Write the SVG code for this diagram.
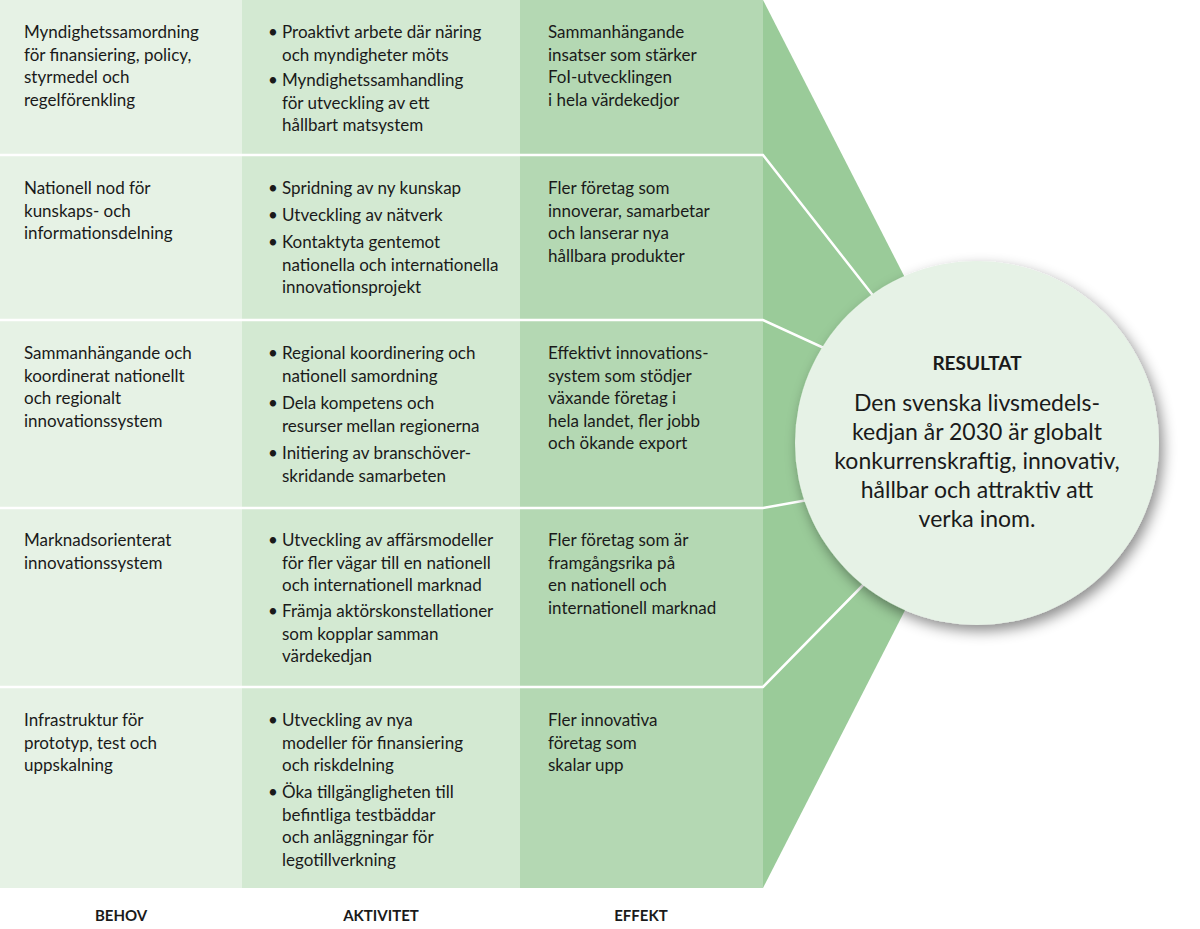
<svg xmlns="http://www.w3.org/2000/svg" width="1200" height="929" viewBox="0 0 1200 929">
<style>
text{font-family:Lato,"Open Sans","Liberation Sans",sans-serif;fill:#1a1a1a}
.t{font-size:17px}
.h{font-size:15px;font-weight:bold;text-anchor:middle}
.c{font-size:23px;text-anchor:middle}
.sep{stroke:#fff;stroke-width:2.5;fill:none}
</style>
<defs>
<filter id="sh" x="-20%" y="-20%" width="150%" height="150%"><feDropShadow dx="4" dy="6" stdDeviation="7" flood-color="#000" flood-opacity="0.45"/></filter>
</defs>
<rect width="1200" height="929" fill="#fff"/>
<g id="bg">
<rect x="0" y="0" width="242" height="888" fill="#e6f2e5"/>
<rect x="242" y="0" width="278" height="888" fill="#d3e9d2"/>
<rect x="520" y="0" width="243" height="888" fill="#b4d8b3"/>
<polygon points="763,0 990,444 763,888" fill="#9acb99"/>
</g>
<g id="connectors">
<polyline class="sep" points="0,155 763,155 900,330"/>
<polyline class="sep" points="0,320 763,320 850,360"/>
<polyline class="sep" points="0,508 763,508 830,496"/>
<polyline class="sep" points="0,687 763,687 870,578"/>
</g>
<g id="row1">
<text class="t" x="24" y="38">Myndighetssamordning<tspan x="24" dy="22.5">för finansiering, policy,</tspan><tspan x="24" dy="22.5">styrmedel och</tspan><tspan x="24" dy="22.5">regelförenkling</tspan></text>
<text class="t" x="268" y="38">•<tspan x="282">Proaktivt arbete där näring</tspan><tspan x="282" dy="22.5">och myndigheter möts</tspan></text>
<text class="t" x="268" y="86">•<tspan x="282">Myndighetssamhandling</tspan><tspan x="282" dy="22.5">för utveckling av ett</tspan><tspan x="282" dy="22.5">hållbart matsystem</tspan></text>
<text class="t" x="548" y="38">Sammanhängande<tspan x="548" dy="22.5">insatser som stärker</tspan><tspan x="548" dy="22.5">FoI-utvecklingen</tspan><tspan x="548" dy="22.5">i hela värdekedjor</tspan></text>
</g>
<g id="row2">
<text class="t" x="24" y="194">Nationell nod för<tspan x="24" dy="22.5">kunskaps- och</tspan><tspan x="24" dy="22.5">informationsdelning</tspan></text>
<text class="t" x="268" y="194">•<tspan x="282">Spridning av ny kunskap</tspan></text>
<text class="t" x="268" y="221">•<tspan x="282">Utveckling av nätverk</tspan></text>
<text class="t" x="268" y="248">•<tspan x="282">Kontaktyta gentemot</tspan><tspan x="282" dy="22.5">nationella och internationella</tspan><tspan x="282" dy="22.5">innovationsprojekt</tspan></text>
<text class="t" x="548" y="194">Fler företag som<tspan x="548" dy="22.5">innoverar, samarbetar</tspan><tspan x="548" dy="22.5">och lanserar nya</tspan><tspan x="548" dy="22.5">hållbara produkter</tspan></text>
</g>
<g id="row3">
<text class="t" x="24" y="359">Sammanhängande och<tspan x="24" dy="22.5">koordinerat nationellt</tspan><tspan x="24" dy="22.5">och regionalt</tspan><tspan x="24" dy="22.5">innovationssystem</tspan></text>
<text class="t" x="268" y="359">•<tspan x="282">Regional koordinering och</tspan><tspan x="282" dy="22.5">nationell samordning</tspan></text>
<text class="t" x="268" y="409">•<tspan x="282">Dela kompetens och</tspan><tspan x="282" dy="22.5">resurser mellan regionerna</tspan></text>
<text class="t" x="268" y="459">•<tspan x="282">Initiering av branschöver-</tspan><tspan x="282" dy="22.5">skridande samarbeten</tspan></text>
<text class="t" x="548" y="359">Effektivt innovations-<tspan x="548" dy="22.5">system som stödjer</tspan><tspan x="548" dy="22.5">växande företag i</tspan><tspan x="548" dy="22.5">hela landet, fler jobb</tspan><tspan x="548" dy="22.5">och ökande export</tspan></text>
</g>
<g id="row4">
<text class="t" x="24" y="546">Marknadsorienterat<tspan x="24" dy="22.5">innovationssystem</tspan></text>
<text class="t" x="268" y="546">•<tspan x="282">Utveckling av affärsmodeller</tspan><tspan x="282" dy="22.5">för fler vägar till en nationell</tspan><tspan x="282" dy="22.5">och internationell marknad</tspan></text>
<text class="t" x="268" y="617">•<tspan x="282">Främja aktörskonstellationer</tspan><tspan x="282" dy="22.5">som kopplar samman</tspan><tspan x="282" dy="22.5">värdekedjan</tspan></text>
<text class="t" x="548" y="546">Fler företag som är<tspan x="548" dy="22.5">framgångsrika på</tspan><tspan x="548" dy="22.5">en nationell och</tspan><tspan x="548" dy="22.5">internationell marknad</tspan></text>
</g>
<g id="row5">
<text class="t" x="24" y="726">Infrastruktur för<tspan x="24" dy="22.5">prototyp, test och</tspan><tspan x="24" dy="22.5">uppskalning</tspan></text>
<text class="t" x="268" y="726">•<tspan x="282">Utveckling av nya</tspan><tspan x="282" dy="22.5">modeller för finansiering</tspan><tspan x="282" dy="22.5">och riskdelning</tspan></text>
<text class="t" x="268" y="798">•<tspan x="282">Öka tillgängligheten till</tspan><tspan x="282" dy="22.5">befintliga testbäddar</tspan><tspan x="282" dy="22.5">och anläggningar för</tspan><tspan x="282" dy="22.5">legotillverkning</tspan></text>
<text class="t" x="548" y="726">Fler innovativa<tspan x="548" dy="22.5">företag som</tspan><tspan x="548" dy="22.5">skalar upp</tspan></text>
</g>
<g id="resultat">
<circle cx="977" cy="443" r="182" fill="#e6f2e6" filter="url(#sh)"/>
<text x="977" y="370" style="font-size:19px;font-weight:bold;text-anchor:middle">RESULTAT</text>
<text class="c" x="977" y="411">Den svenska livsmedels-<tspan x="977" dy="29">kedjan år 2030 är globalt</tspan><tspan x="977" dy="29">konkurrenskraftig, innovativ,</tspan><tspan x="977" dy="29">hållbar och attraktiv att</tspan><tspan x="977" dy="29">verka inom.</tspan></text>
</g>
<g id="labels">
<text class="h" x="121" y="921">BEHOV</text>
<text class="h" x="381" y="921">AKTIVITET</text>
<text class="h" x="641" y="921">EFFEKT</text>
</g>
</svg>
